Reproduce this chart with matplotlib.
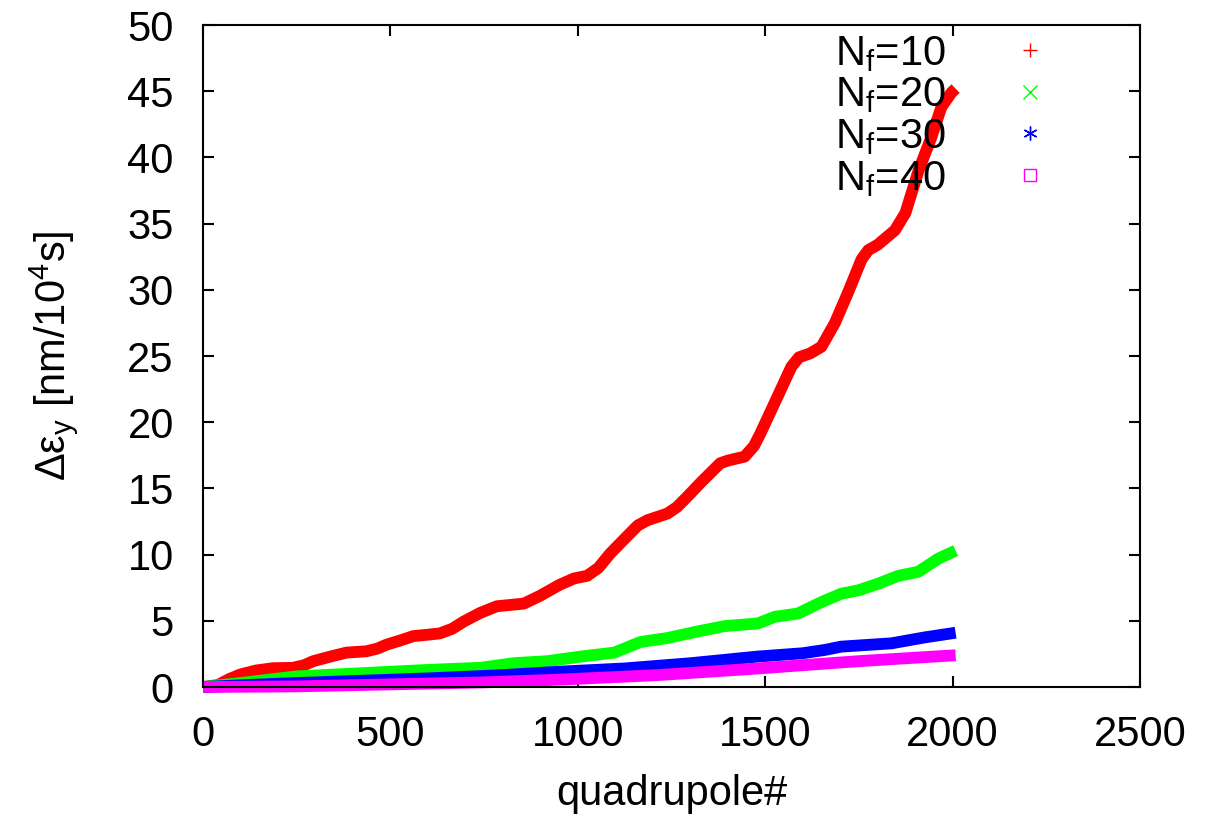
import numpy as np
import matplotlib.pyplot as plt
from matplotlib.lines import Line2D

plt.rcParams['font.family'] = ['Liberation Sans', 'DejaVu Sans']
plt.rcParams['mathtext.fontset'] = 'custom'
plt.rcParams['mathtext.rm'] = 'Liberation Sans'

# values (quadrupole index, emittance growth)
q_10 = [0, 40, 70, 100, 142, 187, 240, 270, 294, 340, 383, 410, 436, 465, 490,
        530, 562, 600, 632, 665, 696, 740, 784, 820, 856, 900, 950, 990, 1025,
        1055, 1087, 1132, 1160, 1186, 1239, 1265, 1293, 1330, 1355, 1380, 1400,
        1445, 1470, 1488, 1534, 1570, 1590, 1620, 1650, 1686, 1721, 1757, 1775,
        1800, 1846, 1874, 1909, 1943, 1970, 1997, 2008]
v_10 = [0, 0.15, 0.6, 0.95, 1.25, 1.42, 1.45, 1.65, 1.95, 2.3, 2.6, 2.65, 2.7,
        2.9, 3.2, 3.55, 3.85, 3.95, 4.05, 4.4, 4.95, 5.6, 6.1, 6.2, 6.3, 6.9,
        7.7, 8.2, 8.4, 9.0, 10.1, 11.4, 12.2, 12.6, 13.1, 13.6, 14.4, 15.5,
        16.2, 16.9, 17.1, 17.4, 18.2, 19.2, 22.0, 24.2, 24.9, 25.2, 25.7, 27.5,
        29.8, 32.3, 33.0, 33.4, 34.5, 35.8, 39.0, 41.5, 43.8, 44.9, 45.2]

q_20 = [0, 100, 249, 428, 606, 740, 829, 918, 1008, 1097, 1124, 1167, 1239,
        1320, 1392, 1480, 1525, 1587, 1649, 1703, 1748, 1801, 1855, 1908, 1962,
        2008]
v_20 = [0, 0.3, 0.8, 1.05, 1.3, 1.45, 1.8, 1.95, 2.3, 2.6, 2.9, 3.4, 3.7, 4.2,
        4.6, 4.8, 5.3, 5.55, 6.4, 7.05, 7.3, 7.8, 8.4, 8.7, 9.7, 10.3]

q_30 = [0, 200, 400, 600, 800, 945, 1124, 1302, 1480, 1600, 1659, 1703, 1837,
        1926, 2008]
v_30 = [0, 0.25, 0.45, 0.65, 0.9, 1.15, 1.4, 1.8, 2.3, 2.55, 2.8, 3.05, 3.3,
        3.75, 4.1]

q_40 = [0, 250, 500, 750, 945, 1213, 1480, 1748, 2008]
v_40 = [0, 0.05, 0.2, 0.35, 0.55, 0.9, 1.4, 1.95, 2.4]

labels = ['10', '20', '30', '40']
colors = ['#ff0000', '#00ff00', '#0000ff', '#ff00ff']
markers = ['+', 'x', (6, 2, 0), 's']

FS = 30

fig = plt.figure(figsize=(12.06, 8.21), dpi=100)
ax = fig.add_axes([0.1683, 0.1632, 0.9453 - 0.1683, 0.9695 - 0.1632])

series = [(q_10, v_10), (q_20, v_20), (q_30, v_30), (q_40, v_40)]
for (q, v), c in zip(series, colors):
    ax.plot(q, v, color=c, lw=8.5, solid_capstyle='butt', solid_joinstyle='round',
            clip_on=False, zorder=2)

ax.set_xlim(0, 2500)
ax.set_ylim(0, 50)
ax.set_xticks(np.arange(0, 2501, 500))
ax.set_yticks(np.arange(0, 51, 5))
ax.tick_params(direction='in', length=8, width=1.5, labelsize=FS,
               top=True, right=True)
ax.tick_params(axis='x', pad=20)
ax.tick_params(axis='y', pad=21)
for s in ax.spines.values():
    s.set_linewidth(1.5)

ax.set_xlabel('quadrupole#', fontsize=FS, labelpad=14)
ax.set_ylabel(r'Δε$_\mathregular{y}$ [nm/10$^\mathregular{4}$s]', fontsize=FS,
              labelpad=34)

handles = []
for lab, c, m in zip(labels, colors, markers):
    ms = 8 if m == 's' else 10
    h = Line2D([], [], ls='none', marker=m, color=c, mfc='none', ms=ms, mew=1.0,
               label=r'N$_\mathregular{f}$=' + lab)
    handles.append(h)
ax.legend(handles=handles, loc='upper right', bbox_to_anchor=(0.9274, 0.987),
          frameon=False, fontsize=FS, markerfirst=False, handlelength=2.0,
          handletextpad=1.04, labelspacing=0.04, borderaxespad=0, borderpad=0)

fig.savefig('out.png', dpi=100)
